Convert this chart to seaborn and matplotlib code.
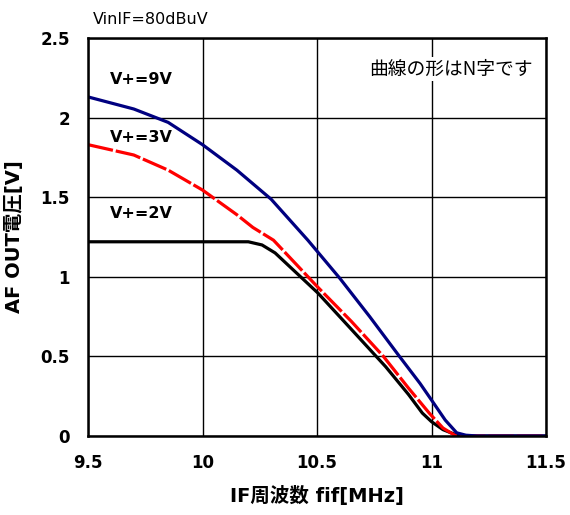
import matplotlib
matplotlib.use("Agg")
import matplotlib.pyplot as plt
import seaborn as sns
import pandas as pd

# Data
freq_9v = [9.5, 9.7, 9.85, 10.0, 10.15, 10.3, 10.46, 10.6, 10.73, 10.86, 10.95, 11.0, 11.06, 11.11, 11.15, 11.2, 11.5]
aout_9v = [2.13, 2.054, 1.97, 1.83, 1.67, 1.487, 1.23, 0.99, 0.75, 0.50, 0.33, 0.226, 0.10, 0.02, 0.005, 0.0, 0.0]

freq_3v = [9.5, 9.7, 9.85, 10.0, 10.15, 10.22, 10.31, 10.5, 10.65, 10.79, 10.9, 10.99, 11.05, 11.1, 11.14, 11.5]
aout_3v = [1.83, 1.765, 1.67, 1.545, 1.39, 1.31, 1.23, 0.94, 0.72, 0.50, 0.30, 0.144, 0.05, 0.006, 0.0, 0.0]

freq_2v = [9.5, 9.8, 10.0, 10.2, 10.26, 10.317, 10.504, 10.65, 10.80, 10.9, 10.96, 11.0, 11.05, 11.11, 11.15, 11.5]
aout_2v = [1.22, 1.22, 1.22, 1.22, 1.20, 1.15, 0.898, 0.67, 0.435, 0.26, 0.144, 0.09, 0.04, 0.006, 0.0, 0.0]

series_names = ["V+=2V", "V+=3V", "V+=9V"]
x_ticks = [9.5, 10, 10.5, 11, 11.5]
x_tick_labels = ["9.5", "10", "10.5", "11", "11.5"]
y_ticks = [0, 0.5, 1, 1.5, 2, 2.5]
y_tick_labels = ["0", "0.5", "1", "1.5", "2", "2.5"]

df = pd.concat([
    pd.DataFrame({"f": freq_2v, "v": aout_2v, "s": series_names[0]}),
    pd.DataFrame({"f": freq_3v, "v": aout_3v, "s": series_names[1]}),
    pd.DataFrame({"f": freq_9v, "v": aout_9v, "s": series_names[2]}),
], ignore_index=True)

sns.set_theme(style="white")
FAM = ["DejaVu Sans", "Noto Sans CJK JP"]
plt.rcParams["font.family"] = FAM

fig = plt.figure(figsize=(5.7, 5.15), dpi=100)
ax = fig.add_axes([88/570, 79/515, 458/570, 398/515])

palette = {"V+=2V": "#000000", "V+=3V": "#ff0000", "V+=9V": "#000080"}
sns.lineplot(data=df, x="f", y="v", hue="s", style="s",
             palette=palette,
             dashes={"V+=2V": "", "V+=3V": (8, 0.9), "V+=9V": ""},
             linewidth=2.3, ax=ax, legend=False, sort=False,
             estimator=None)

ax.set_xlim(9.5, 11.5)
ax.set_ylim(0, 2.5)
ax.set_xticks(x_ticks)
ax.set_xticklabels(x_tick_labels)
ax.set_yticks(y_ticks)
ax.set_yticklabels(y_tick_labels)
ax.grid(True, color="black", linewidth=1.0)
ax.set_axisbelow(True)
for sp in ax.spines.values():
    sp.set_color("black")
    sp.set_linewidth(1.8)
ax.tick_params(length=0, labelsize=12, pad=13)
for lab in ax.get_xticklabels() + ax.get_yticklabels():
    lab.set_fontweight("bold")
    lab.set_color("black")

ax.set_xlabel("IF周波数 fif[MHz]", fontsize=14, fontweight="bold", color="black", labelpad=10)
ax.set_ylabel("AF OUT電圧[V]", fontsize=14, fontweight="bold", color="black", labelpad=12)

ax.text(9.596, 2.242, "V+=9V", fontsize=11.5, fontweight="bold", color="black", va="center")
ax.text(9.596, 1.878, "V+=3V", fontsize=11.5, fontweight="bold", color="black", va="center")
ax.text(9.596, 1.40, "V+=2V", fontsize=11.5, fontweight="bold", color="black", va="center")

ax.text(11.443, 2.305, "曲線の形はN字です", fontsize=13.5, color="black", ha="right", va="center",
        family=["Noto Sans CJK JP", "DejaVu Sans"],
        bbox=dict(facecolor="white", edgecolor="none", pad=1))

fig.text(93/570, 1 - 20/515, "VinIF=80dBuV", fontsize=11.5, color="black", ha="left", va="center")

fig.savefig("out.png", dpi=100)
